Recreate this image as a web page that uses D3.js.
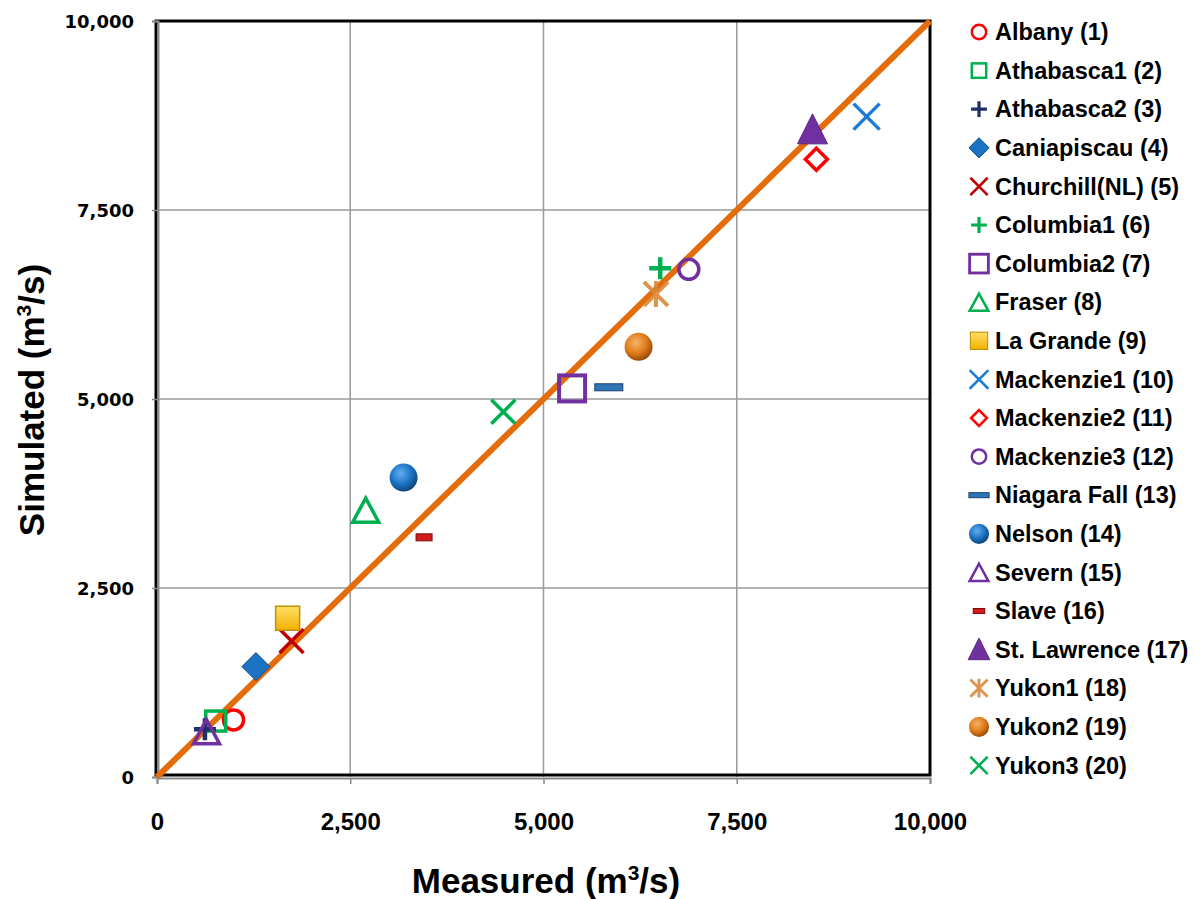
<!DOCTYPE html>
<html>
<head>
<meta charset="utf-8">
<script src="https://cdn.jsdelivr.net/npm/d3@7"></script>
<style>
  body { margin: 0; background: #fff; }
  svg { display: block; }
</style>
</head>
<body>
<div id="chart"></div>
<script>
// stations, measured vs simulated mean flow (m3/s)
var stations = ["Albany (1)", "Athabasca1 (2)", "Athabasca2 (3)", "Caniapiscau (4)", "Churchill(NL) (5)",
  "Columbia1 (6)", "Columbia2 (7)", "Fraser (8)", "La Grande (9)", "Mackenzie1 (10)",
  "Mackenzie2 (11)", "Mackenzie3 (12)", "Niagara Fall (13)", "Nelson (14)", "Severn (15)",
  "Slave (16)", "St. Lawrence (17)", "Yukon1 (18)", "Yukon2 (19)", "Yukon3 (20)"];
var measured  = [990, 760, 620, 1280, 1740, 6510, 5370, 2700, 1690, 9180, 8530, 6880, 5845, 3190, 640, 3455, 8480, 6455, 6230, 4480];
var simulated = [755, 740, 630, 1460, 1800, 6730, 5140, 3530, 2100, 8735, 8170, 6715, 5155, 3960, 600, 3170, 8560, 6390, 5690, 4830];
var ticks = [0, 2500, 5000, 7500, 10000];

// marker look per station (same order as above)
var markers = [
  {shape: "circle", color: "#FF0000"},
  {shape: "square", color: "#00B050"},
  {shape: "plus", color: "#1F2F6B"},
  {shape: "diamondFill", color: "#1C73C4"},
  {shape: "x", color: "#C00000"},
  {shape: "plus", color: "#00B050"},
  {shape: "squareBig", color: "#7030A0"},
  {shape: "triangle", color: "#00B050"},
  {shape: "squareFill", color: "#FFC000"},
  {shape: "xBig", color: "#1C7CD5"},
  {shape: "diamond", color: "#FF0000"},
  {shape: "circle", color: "#7030A0"},
  {shape: "bar", color: "#2E75B6"},
  {shape: "ball", color: "#1C73C4"},
  {shape: "triangle", color: "#7030A0"},
  {shape: "barSmall", color: "#D01C1C"},
  {shape: "triangleFill", color: "#7030A0"},
  {shape: "star", color: "#D9893A"},
  {shape: "ball", color: "#E07B1A"},
  {shape: "x", color: "#00B050"}
];

var svgWidth = 1202, svgHeight = 899;
var NARROW = "'Liberation Sans Narrow', 'Arial Narrow', 'Liberation Sans', sans-serif";

var svg = d3.select("#chart").append("svg")
  .attr("width", svgWidth)
  .attr("height", svgHeight);

var defs = svg.append("defs");
function ballGradient(id, light, mid, dark) {
  var gr = defs.append("radialGradient").attr("id", id)
    .attr("cx", "40%").attr("cy", "35%").attr("r", "70%");
  gr.append("stop").attr("offset", "0%").attr("stop-color", light);
  gr.append("stop").attr("offset", "55%").attr("stop-color", mid);
  gr.append("stop").attr("offset", "100%").attr("stop-color", dark);
}
ballGradient("ball-blue", "#5FB0F0", "#1C73C4", "#0B3E73");
ballGradient("ball-orange", "#F6B26B", "#E07B1A", "#8A4408");
var yg = defs.append("linearGradient").attr("id", "gold").attr("x1", 0).attr("y1", 0).attr("x2", 0).attr("y2", 1);
yg.append("stop").attr("offset", "0%").attr("stop-color", "#FFE066");
yg.append("stop").attr("offset", "100%").attr("stop-color", "#F2B000");

var x = d3.scaleLinear().domain([0, 10000]).range([157, 930]);
var y = d3.scaleLinear().domain([0, 10000]).range([777, 21]);

// grid
svg.append("g")
  .selectAll("line.vg").data(ticks.slice(1, 4)).enter().append("line")
  .attr("x1", function(d) { return x(d); }).attr("x2", function(d) { return x(d); })
  .attr("y1", y(0)).attr("y2", y(10000))
  .style("stroke", "#9A9A9A").style("stroke-width", 1.5);
svg.append("g")
  .selectAll("line.hg").data(ticks.slice(1, 4)).enter().append("line")
  .attr("y1", function(d) { return y(d); }).attr("y2", function(d) { return y(d); })
  .attr("x1", x(0)).attr("x2", x(10000))
  .style("stroke", "#9A9A9A").style("stroke-width", 1.5);

// frame
svg.append("rect")
  .attr("x", x(0) - 1).attr("y", y(10000))
  .attr("width", x(10000) - x(0) + 1).attr("height", y(0) - y(10000) - 2)
  .style("fill", "none").style("stroke", "#000").style("stroke-width", 3);

// axes
var xAxis = svg.append("g")
  .attr("transform", "translate(0," + (y(0) + 1) + ")")
  .call(d3.axisBottom(x).tickValues(ticks).tickFormat(d3.format(",")).tickSize(6).tickPadding(29));
var yAxis = svg.append("g")
  .attr("transform", "translate(" + (x(0) + 1) + ",0)")
  .call(d3.axisLeft(y).tickValues(ticks).tickFormat(d3.format(",")).tickSize(6).tickPadding(18));

[xAxis, yAxis].forEach(function(a) {
  a.select(".domain").style("stroke", "#8A8A8A").style("stroke-width", 2);
  a.selectAll(".tick line").style("stroke", "#8A8A8A").style("stroke-width", 1.5);
});
xAxis.selectAll(".tick text")
  .style("font-family", NARROW).style("font-weight", "bold").style("font-size", "24px").attr("fill", "#000");
yAxis.selectAll(".tick text")
  .style("font-family", "'DejaVu Sans', Verdana, sans-serif").style("font-weight", "bold").style("font-size", "18px")
  .attr("fill", "#000")
  .attr("dy", "0.36em");

// 1:1 line
svg.append("line")
  .attr("x1", x(0)).attr("y1", y(0)).attr("x2", x(10000)).attr("y2", y(10000))
  .style("stroke", "#E46C0A").style("stroke-width", 6).style("stroke-linecap", "butt");

function drawMarker(g, m, s) {
  // s = scale factor (1 in plot)
  var c = m.color, p;
  switch (m.shape) {
    case "circle":
      g.append("circle").attr("r", 10 * s).style("fill", "none").style("stroke", c).style("stroke-width", 3.5 * s);
      break;
    case "square":
      g.append("rect").attr("x", -10 * s).attr("y", -10 * s).attr("width", 20 * s).attr("height", 20 * s)
        .style("fill", "none").style("stroke", c).style("stroke-width", 3.5 * s);
      break;
    case "squareBig":
      g.append("rect").attr("x", -13 * s).attr("y", -13 * s).attr("width", 26 * s).attr("height", 26 * s)
        .style("fill", "none").style("stroke", c).style("stroke-width", 4 * s);
      break;
    case "squareFill":
      g.append("rect").attr("x", -12 * s).attr("y", -12 * s).attr("width", 24 * s).attr("height", 24 * s)
        .style("fill", "url(#gold)").style("stroke", "#BF9000").style("stroke-width", 1.5 * s);
      break;
    case "plus":
      p = d3.path();
      p.moveTo(-11 * s, 0); p.lineTo(11 * s, 0);
      p.moveTo(0, -11 * s); p.lineTo(0, 11 * s);
      g.append("path").attr("d", p.toString()).style("stroke", c).style("stroke-width", 4.5 * s).style("fill", "none");
      break;
    case "x":
    case "xBig":
      var h = (m.shape == "xBig" ? 13 : 12) * s;
      p = d3.path();
      p.moveTo(-h, -h); p.lineTo(h, h);
      p.moveTo(-h, h); p.lineTo(h, -h);
      g.append("path").attr("d", p.toString()).style("stroke", c).style("stroke-width", 3.5 * s).style("fill", "none");
      break;
    case "star":
      p = d3.path();
      p.moveTo(-12 * s, -12 * s); p.lineTo(12 * s, 12 * s);
      p.moveTo(-12 * s, 12 * s); p.lineTo(12 * s, -12 * s);
      p.moveTo(0, -13 * s); p.lineTo(0, 13 * s);
      g.append("path").attr("d", p.toString()).style("stroke", c).style("stroke-width", 4 * s)
        .style("fill", "none").style("opacity", 0.9);
      break;
    case "diamond":
      g.append("path").attr("d", "M0," + (-11 * s) + "L" + (11 * s) + ",0L0," + (11 * s) + "L" + (-11 * s) + ",0Z")
        .style("fill", "none").style("stroke", c).style("stroke-width", 3.5 * s);
      break;
    case "diamondFill":
      g.append("path").attr("d", "M0," + (-14 * s) + "L" + (14 * s) + ",0L0," + (14 * s) + "L" + (-14 * s) + ",0Z")
        .style("fill", c).style("stroke", "#0B4A85").style("stroke-width", 1);
      break;
    case "triangle":
      g.append("path").attr("d", "M0," + (-12 * s) + "L" + (13 * s) + "," + (12 * s) + "L" + (-13 * s) + "," + (12 * s) + "Z")
        .style("fill", "none").style("stroke", c).style("stroke-width", 3.5 * s).style("stroke-linejoin", "miter");
      break;
    case "triangleFill":
      g.append("path").attr("d", "M0," + (-16 * s) + "L" + (15 * s) + "," + (14 * s) + "L" + (-15 * s) + "," + (14 * s) + "Z")
        .style("fill", c).style("stroke", "#5A2485").style("stroke-width", 1);
      break;
    case "ball":
      g.append("circle").attr("r", 14 * s)
        .style("fill", c == "#1C73C4" ? "url(#ball-blue)" : "url(#ball-orange)");
      break;
    case "bar":
      g.append("rect").attr("x", -14 * s).attr("y", -3.5 * s).attr("width", 28 * s).attr("height", 7 * s)
        .style("fill", c).style("stroke", "#1A3F73").style("stroke-width", 1);
      break;
    case "barSmall":
      g.append("rect").attr("x", -8 * s).attr("y", -3.5 * s).attr("width", 16 * s).attr("height", 7 * s)
        .style("fill", c).style("stroke", "#7A0A0A").style("stroke-width", 1);
      break;
  }
}

var pts = svg.append("g").selectAll("g.pt")
  .data(stations).enter().append("g")
  .attr("class", "pt")
  .attr("transform", function(d, i) { return "translate(" + x(measured[i]) + "," + y(simulated[i]) + ")"; });
pts.each(function(d, i) { drawMarker(d3.select(this), markers[i], 1); });

// legend
var legend = svg.append("g").selectAll("g.legend")
  .data(stations).enter().append("g")
  .attr("class", "legend")
  .attr("transform", function(d, i) { return "translate(979," + (32 + i * 38.6) + ")"; });
legend.each(function(d, i) { drawMarker(d3.select(this), markers[i], 0.72); });
legend.append("text")
  .attr("x", 16).attr("dy", "0.35em")
  .style("font-family", NARROW).style("font-weight", "bold").style("font-size", "23.5px")
  .text(function(d) { return d; });

// axis titles
svg.append("text")
  .attr("x", 546).attr("y", 893)
  .attr("text-anchor", "middle")
  .style("font-family", NARROW).style("font-weight", "bold").style("font-size", "35px")
  .html("Measured (m<tspan dy='-13' font-size='21px'>3</tspan><tspan dy='13'>/s)</tspan>");
svg.append("text")
  .attr("transform", "translate(44,400) rotate(-90)")
  .attr("text-anchor", "middle")
  .style("font-family", NARROW).style("font-weight", "bold").style("font-size", "35px")
  .html("Simulated (m<tspan dy='-13' font-size='21px'>3</tspan><tspan dy='13'>/s)</tspan>");
</script>
</body>
</html>
